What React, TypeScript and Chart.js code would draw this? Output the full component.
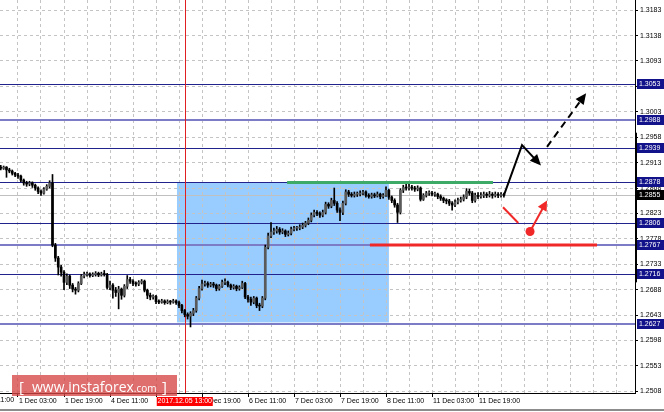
import React, { useEffect, useRef } from 'react';
import { Chart, registerables } from 'chart.js';

Chart.register(...registerables);

// ---- candle data (hourly bars, index 0 = 30 Nov 11:00) ----
const FIRST_INDEX = 10;
const FIRST_OPEN = 1.2905;
const closes = [
  1.2903, 1.2905, 1.2900, 1.2898, 1.2894, 1.2891, 1.2889, 1.2882, 1.2877, 1.2875,
  1.2877, 1.2873, 1.2868, 1.2862, 1.2859, 1.2866, 1.2871, 1.2877, 1.2767, 1.2744,
  1.2728, 1.2719, 1.2701, 1.2712, 1.2696, 1.2689, 1.2687, 1.2699, 1.2712, 1.2715,
  1.2716, 1.2713, 1.2715, 1.2717, 1.2714, 1.2716, 1.2715, 1.2692, 1.2696, 1.2687,
  1.2683, 1.2689, 1.2678, 1.2694, 1.2706, 1.2703, 1.2699, 1.2698, 1.2701, 1.2703,
  1.2687, 1.2678, 1.2675, 1.2676, 1.2667, 1.2666, 1.2668, 1.2665, 1.2667, 1.2666,
  1.2668, 1.2665, 1.2660, 1.2651, 1.2644, 1.2641, 1.2646, 1.2651, 1.2673, 1.2690,
  1.2698, 1.2699, 1.2696, 1.2698, 1.2696, 1.2690, 1.2694, 1.2701, 1.2701, 1.2696,
  1.2692, 1.2694, 1.2690, 1.2692, 1.2699, 1.2675, 1.2671, 1.2666, 1.2673, 1.2660,
  1.2659, 1.2673, 1.2763, 1.2783, 1.2790, 1.2792, 1.2795, 1.2790, 1.2792, 1.2786,
  1.2788, 1.2795, 1.2797, 1.2797, 1.2799, 1.2802, 1.2806, 1.2811, 1.2820, 1.2825,
  1.2823, 1.2820, 1.2825, 1.2839, 1.2836, 1.2846, 1.2841, 1.2829, 1.2825, 1.2841,
  1.2861, 1.2857, 1.2855, 1.2857, 1.2857, 1.2859, 1.2861, 1.2855, 1.2853, 1.2856,
  1.2854, 1.2857, 1.2853, 1.2855, 1.2864, 1.2852, 1.2846, 1.2838, 1.2825, 1.2864,
  1.2869, 1.2868, 1.2869, 1.2868, 1.2866, 1.2868, 1.2848, 1.2855, 1.2859, 1.2859,
  1.2857, 1.2857, 1.2853, 1.2850, 1.2846, 1.2845, 1.2841, 1.2838, 1.2843, 1.2846,
  1.2848, 1.2852, 1.2862, 1.2859, 1.2846, 1.2855, 1.2853, 1.2855, 1.2857, 1.2855,
  1.2857, 1.2855, 1.2857, 1.2855, 1.2856, 1.2855,
];
const highs = [
  1.2908, 1.2907, 1.2906, 1.2903, 1.2900, 1.2896, 1.2894, 1.2891, 1.2884, 1.2880,
  1.2880, 1.2879, 1.2875, 1.2870, 1.2865, 1.2869, 1.2874, 1.2881, 1.2892, 1.2770,
  1.2747, 1.2731, 1.2722, 1.2716, 1.2714, 1.2699, 1.2692, 1.2702, 1.2715, 1.2719,
  1.2719, 1.2718, 1.2718, 1.2720, 1.2719, 1.2719, 1.2722, 1.2717, 1.2703, 1.2699,
  1.2692, 1.2694, 1.2691, 1.2697, 1.2713, 1.2710, 1.2706, 1.2702, 1.2704, 1.2706,
  1.2705, 1.2689, 1.2682, 1.2679, 1.2678, 1.2670, 1.2671, 1.2670, 1.2670, 1.2669,
  1.2671, 1.2670, 1.2668, 1.2662, 1.2653, 1.2647, 1.2649, 1.2655, 1.2676, 1.2694,
  1.2705, 1.2703, 1.2702, 1.2701, 1.2701, 1.2698, 1.2697, 1.2705, 1.2707, 1.2703,
  1.2698, 1.2697, 1.2696, 1.2695, 1.2703, 1.2701, 1.2678, 1.2675, 1.2676, 1.2675,
  1.2664, 1.2676, 1.2767, 1.2788, 1.2807, 1.2797, 1.2800, 1.2798, 1.2796, 1.2794,
  1.2792, 1.2799, 1.2800, 1.2800, 1.2803, 1.2806, 1.2809, 1.2815, 1.2824, 1.2829,
  1.2828, 1.2826, 1.2829, 1.2843, 1.2842, 1.2850, 1.2868, 1.2844, 1.2833, 1.2845,
  1.2865, 1.2864, 1.2860, 1.2861, 1.2861, 1.2863, 1.2864, 1.2863, 1.2858, 1.2859,
  1.2859, 1.2861, 1.2859, 1.2858, 1.2870, 1.2866, 1.2854, 1.2849, 1.2841, 1.2867,
  1.2873, 1.2876, 1.2878, 1.2873, 1.2871, 1.2872, 1.2870, 1.2858, 1.2862, 1.2863,
  1.2862, 1.2861, 1.2859, 1.2856, 1.2852, 1.2849, 1.2848, 1.2844, 1.2847, 1.2850,
  1.2852, 1.2856, 1.2867, 1.2866, 1.2862, 1.2859, 1.2860, 1.2860, 1.2861, 1.2860,
  1.2862, 1.2860, 1.2861, 1.2860, 1.2860, 1.2859,
];
const lows = [
  1.2900, 1.2901, 1.2887, 1.2895, 1.2891, 1.2888, 1.2885, 1.2879, 1.2873, 1.2871,
  1.2872, 1.2869, 1.2864, 1.2858, 1.2855, 1.2857, 1.2864, 1.2868, 1.2764, 1.2738,
  1.2714, 1.2712, 1.2688, 1.2697, 1.2690, 1.2684, 1.2680, 1.2684, 1.2697, 1.2709,
  1.2712, 1.2710, 1.2711, 1.2712, 1.2711, 1.2712, 1.2712, 1.2689, 1.2688, 1.2673,
  1.2676, 1.2654, 1.2671, 1.2675, 1.2690, 1.2699, 1.2695, 1.2694, 1.2695, 1.2698,
  1.2684, 1.2672, 1.2670, 1.2671, 1.2663, 1.2663, 1.2664, 1.2662, 1.2663, 1.2662,
  1.2664, 1.2662, 1.2656, 1.2647, 1.2640, 1.2636, 1.2622, 1.2642, 1.2648, 1.2670,
  1.2687, 1.2694, 1.2692, 1.2693, 1.2692, 1.2686, 1.2687, 1.2692, 1.2697, 1.2693,
  1.2688, 1.2689, 1.2686, 1.2687, 1.2690, 1.2672, 1.2666, 1.2660, 1.2663, 1.2656,
  1.2651, 1.2656, 1.2670, 1.2760, 1.2780, 1.2786, 1.2788, 1.2786, 1.2787, 1.2782,
  1.2783, 1.2785, 1.2792, 1.2793, 1.2794, 1.2796, 1.2799, 1.2803, 1.2808, 1.2817,
  1.2819, 1.2816, 1.2817, 1.2822, 1.2832, 1.2833, 1.2837, 1.2825, 1.2810, 1.2821,
  1.2838, 1.2853, 1.2852, 1.2852, 1.2853, 1.2854, 1.2856, 1.2852, 1.2850, 1.2850,
  1.2851, 1.2852, 1.2849, 1.2850, 1.2853, 1.2848, 1.2842, 1.2834, 1.2807, 1.2822,
  1.2860, 1.2864, 1.2864, 1.2864, 1.2862, 1.2863, 1.2845, 1.2846, 1.2852, 1.2855,
  1.2854, 1.2853, 1.2849, 1.2846, 1.2842, 1.2840, 1.2837, 1.2829, 1.2835, 1.2840,
  1.2843, 1.2845, 1.2849, 1.2855, 1.2842, 1.2843, 1.2849, 1.2850, 1.2851, 1.2851,
  1.2852, 1.2850, 1.2852, 1.2851, 1.2852, 1.2852,
];

// ---- axes ----
const xTickIndex = [0, 16, 32, 48, 64, 80, 96, 112, 128, 144, 160, 176];
const xTickText = [
  '30 Nov 11:00', '1 Dec 03:00', '1 Dec 19:00', '4 Dec 11:00', '5 Dec 03:00', '5 Dec 19:00',
  '6 Dec 11:00', '7 Dec 03:00', '7 Dec 19:00', '8 Dec 11:00', '11 Dec 03:00', '11 Dec 19:00',
];
const yTickValues = [
  1.2508, 1.2553, 1.2598, 1.2643, 1.2688, 1.2733, 1.2778, 1.2823,
  1.2868, 1.2913, 1.2958, 1.3003, 1.3048, 1.3093, 1.3138, 1.3183,
];
const X_MIN = 9.74;
const X_MAX = 230.6;
const Y_MIN = 1.2505;
const Y_MAX = 1.3201;

// ---- annotations (data coordinates: bar index, price) ----
const levelPrices = [1.3053, 1.2988, 1.2939, 1.2878, 1.2806, 1.2767, 1.2716, 1.2627];
const softLevelPrices = [1.2988, 1.2767, 1.2627];
const zoneIndex = [71.3, 145];
const zonePrice = [1.2878, 1.2630];
const markerIndex = 74;
const markerLabel = '2017.12.05 13:00';
const greenIndex = [109.6, 181.2];
const greenPrice = 1.2878;
const redIndex = [138.4, 217.4];
const redPrice = 1.2767;
const blackPathIndex = [185, 191.3, 197.9];
const blackPathPrice = [1.2855, 1.2944, 1.2908];
const dashedIndex = [200, 213.6];
const dashedPrice = [1.2941, 1.3036];
const redStrokeIndex = [184.7, 190];
const redStrokePrice = [1.2834, 1.2806];
const redArrowIndex = [194.1, 200];
const redArrowPrice = [1.2791, 1.2846];
const rangeBarPrice = [1.2966, 1.2701];

const opens = closes.map((_, k) => (k === 0 ? FIRST_OPEN : closes[k - 1]));

function arrowHead(ctx: CanvasRenderingContext2D, x0: number, y0: number, x1: number, y1: number, len: number, half: number) {
  const a = Math.atan2(y1 - y0, x1 - x0);
  const bx = x1 - len * Math.cos(a);
  const by = y1 - len * Math.sin(a);
  ctx.beginPath();
  ctx.moveTo(x1, y1);
  ctx.lineTo(bx + half * Math.sin(a), by - half * Math.cos(a));
  ctx.lineTo(bx - half * Math.sin(a), by + half * Math.cos(a));
  ctx.closePath();
  ctx.fill();
}

const FONT = '"Liberation Sans", Arial, sans-serif';

const overlay = {
  id: 'overlay',
  beforeDraw(chart: any) {
    const { ctx } = chart;
    const { x, y } = chart.scales;
    ctx.save();
    ctx.fillStyle = '#ffffff';
    ctx.fillRect(0, 0, chart.width, chart.height);
    const x1 = x.getPixelForValue(zoneIndex[0]);
    const x2 = x.getPixelForValue(zoneIndex[1]);
    const y1 = y.getPixelForValue(zonePrice[0]);
    const y2 = y.getPixelForValue(zonePrice[1]);
    ctx.fillStyle = '#99ccff';
    ctx.fillRect(x1, y1, x2 - x1, y2 - y1);
    ctx.restore();
  },
  beforeDatasetsDraw(chart: any) {
    const { ctx, chartArea: a } = chart;
    const { x, y } = chart.scales;
    ctx.save();
    const last = closes[closes.length - 1];
    const py = Math.round(y.getPixelForValue(last)) + 0.5;
    ctx.strokeStyle = '#c0c0c0';
    ctx.lineWidth = 1;
    ctx.beginPath();
    ctx.moveTo(a.left, py);
    ctx.lineTo(a.right, py);
    ctx.stroke();
    levelPrices.forEach((p) => {
      const soft = softLevelPrices.includes(p);
      const yy = Math.round(y.getPixelForValue(p)) + (soft ? 0 : 0.5);
      ctx.strokeStyle = soft ? '#7b7bc6' : '#22228c';
      ctx.lineWidth = soft ? 2 : 1;
      ctx.beginPath();
      ctx.moveTo(a.left, yy);
      ctx.lineTo(a.right, yy);
      ctx.stroke();
    });
    const mx = Math.round(x.getPixelForValue(markerIndex)) + 0.5;
    ctx.strokeStyle = '#e02020';
    ctx.lineWidth = 1;
    ctx.beginPath();
    ctx.moveTo(mx, a.top);
    ctx.lineTo(mx, a.bottom);
    ctx.stroke();
    ctx.restore();
  },
  afterDatasetsDraw(chart: any) {
    const { ctx } = chart;
    const { x, y } = chart.scales;
    ctx.save();
    ctx.lineCap = 'butt';
    ctx.strokeStyle = '#3daa68';
    ctx.lineWidth = 3;
    const gy = y.getPixelForValue(greenPrice);
    ctx.beginPath();
    ctx.moveTo(x.getPixelForValue(greenIndex[0]), gy);
    ctx.lineTo(x.getPixelForValue(greenIndex[1]), gy);
    ctx.stroke();
    ctx.strokeStyle = '#f02828';
    ctx.lineWidth = 3;
    const ry = y.getPixelForValue(redPrice);
    ctx.beginPath();
    ctx.moveTo(x.getPixelForValue(redIndex[0]), ry);
    ctx.lineTo(x.getPixelForValue(redIndex[1]), ry);
    ctx.stroke();

    const bp = blackPathIndex.map((v, k) => [x.getPixelForValue(v), y.getPixelForValue(blackPathPrice[k])]);
    ctx.strokeStyle = '#000';
    ctx.fillStyle = '#000';
    ctx.lineWidth = 2;
    ctx.lineJoin = 'miter';
    ctx.beginPath();
    ctx.moveTo(bp[0][0], bp[0][1]);
    ctx.lineTo(bp[1][0], bp[1][1]);
    {
      const [ax, ay] = bp[1];
      const [bx, by] = bp[2];
      const d = Math.hypot(bx - ax, by - ay);
      ctx.lineTo(bx - ((bx - ax) / d) * 8, by - ((by - ay) / d) * 8);
    }
    ctx.stroke();
    arrowHead(ctx, bp[1][0], bp[1][1], bp[2][0], bp[2][1], 11, 5);

    const d0 = [x.getPixelForValue(dashedIndex[0]), y.getPixelForValue(dashedPrice[0])];
    const d1 = [x.getPixelForValue(dashedIndex[1]), y.getPixelForValue(dashedPrice[1])];
    ctx.setLineDash([7, 5]);
    ctx.beginPath();
    ctx.moveTo(d0[0], d0[1]);
    {
      const d = Math.hypot(d1[0] - d0[0], d1[1] - d0[1]);
      ctx.lineTo(d1[0] - ((d1[0] - d0[0]) / d) * 8, d1[1] - ((d1[1] - d0[1]) / d) * 8);
    }
    ctx.stroke();
    ctx.setLineDash([]);
    arrowHead(ctx, d0[0], d0[1], d1[0], d1[1], 11, 5);

    ctx.strokeStyle = '#f02828';
    ctx.fillStyle = '#f02828';
    ctx.lineWidth = 2;
    ctx.beginPath();
    ctx.moveTo(x.getPixelForValue(redStrokeIndex[0]), y.getPixelForValue(redStrokePrice[0]));
    ctx.lineTo(x.getPixelForValue(redStrokeIndex[1]), y.getPixelForValue(redStrokePrice[1]));
    ctx.stroke();
    const r0 = [x.getPixelForValue(redArrowIndex[0]), y.getPixelForValue(redArrowPrice[0])];
    const r1 = [x.getPixelForValue(redArrowIndex[1]), y.getPixelForValue(redArrowPrice[1])];
    ctx.beginPath();
    ctx.arc(r0[0], r0[1], 4.5, 0, Math.PI * 2);
    ctx.fill();
    ctx.beginPath();
    ctx.moveTo(r0[0], r0[1]);
    {
      const d = Math.hypot(r1[0] - r0[0], r1[1] - r0[1]);
      ctx.lineTo(r1[0] - ((r1[0] - r0[0]) / d) * 8, r1[1] - ((r1[1] - r0[1]) / d) * 8);
    }
    ctx.stroke();
    arrowHead(ctx, r0[0], r0[1], r1[0], r1[1], 10, 5);
    ctx.restore();
  },
  afterDraw(chart: any) {
    const { ctx, chartArea: a } = chart;
    const { x, y } = chart.scales;
    ctx.save();
    ctx.fillStyle = '#000';
    const t = y.getPixelForValue(rangeBarPrice[0]);
    const b = y.getPixelForValue(rangeBarPrice[1]);
    ctx.fillRect(a.right, t, 2, b - t);

    ctx.font = `7px ${FONT}`;
    ctx.textBaseline = 'middle';
    ctx.textAlign = 'left';
    levelPrices.forEach((p) => {
      const yy = Math.round(y.getPixelForValue(p));
      ctx.fillStyle = '#12128a';
      ctx.fillRect(a.right + 2, yy - 5, 27, 10);
      ctx.fillStyle = '#ffffff';
      ctx.fillText(p.toFixed(4), a.right + 4, yy + 0.5);
    });
    const last = closes[closes.length - 1];
    const ly = Math.round(y.getPixelForValue(last));
    ctx.fillStyle = '#000';
    ctx.fillRect(a.right + 2, ly - 5, 27, 10);
    ctx.fillStyle = '#fff';
    ctx.fillText(last.toFixed(4), a.right + 4, ly + 0.5);

    ctx.fillStyle = '#000';
    ctx.textBaseline = 'top';
    ctx.fillText(xTickText[0], x.getPixelForValue(xTickIndex[0]) + 1, a.bottom + 4);

    ctx.fillStyle = 'rgba(214, 70, 70, 0.78)';
    ctx.fillRect(12, 375, 165, 21);
    ctx.fillStyle = '#ffffff';
    ctx.textBaseline = 'alphabetic';
    ctx.font = '15px "Open Sans", sans-serif';
    ctx.fillText('[', 19, 392);
    ctx.font = '14px "Open Sans", sans-serif';
    ctx.fillText('www.instaforex', 32, 392);
    const w = ctx.measureText('www.instaforex').width;
    ctx.font = '10px "Open Sans", sans-serif';
    ctx.fillText('.com', 32 + w, 392);
    ctx.font = '15px "Open Sans", sans-serif';
    ctx.fillText(']', 162, 392);

    const mx = x.getPixelForValue(markerIndex);
    ctx.fillStyle = '#ff0000';
    ctx.fillRect(mx - 28, a.bottom + 4, 56, 9);
    ctx.fillStyle = '#ffffff';
    ctx.font = `7px ${FONT}`;
    ctx.textBaseline = 'top';
    ctx.textAlign = 'center';
    ctx.fillText(markerLabel, mx, a.bottom + 5);

    ctx.fillStyle = '#8c8c8c';
    ctx.fillRect(0, 409, chart.width, 2);
    ctx.restore();
  },
};

export default function App() {
  const ref = useRef<HTMLCanvasElement | null>(null);

  useEffect(() => {
    const canvas = ref.current;
    if (!canvas) return;
    const idx = closes.map((_, k) => FIRST_INDEX + k);
    const wicks = idx.map((i, k) => ({ x: i, y: [lows[k], highs[k]] }));
    const bodies = idx.map((i, k) => ({ x: i, y: [opens[k], closes[k]] }));
    const bodyColors = closes.map((c, k) => (c >= opens[k] ? '#5a5a5a' : '#000000'));

    const chart = new Chart(canvas, {
      type: 'bar',
      data: {
        datasets: [
          { data: wicks as any, backgroundColor: '#000', barThickness: 1, grouped: false, order: 2 } as any,
          { data: bodies as any, backgroundColor: bodyColors, barThickness: 2, grouped: false, order: 1, minBarLength: 1 } as any,
        ],
      },
      options: {
        animation: false,
        responsive: false,
        events: [],
        layout: { padding: 0 },
        plugins: { legend: { display: false }, tooltip: { enabled: false } },
        scales: {
          x: {
            type: 'linear',
            min: X_MIN,
            max: X_MAX,
            offset: false,
            grid: {
              offset: false,
              color: '#c4c4c4',
              tickLength: 4,
              tickColor: (c: any) => (c.tick && xTickIndex.includes(c.tick.value) ? '#000' : 'rgba(0,0,0,0)'),
            },
            border: { display: true, color: '#000', width: 1, dash: [3, 3] },
            ticks: {
              autoSkip: false,
              maxRotation: 0,
              minRotation: 0,
              align: 'start',
              padding: 0,
              labelOffset: 1,
              color: '#000',
              font: { family: FONT, size: 7 },
              callback: (v: any) => {
                const k = xTickIndex.indexOf(Number(v));
                return k >= 0 ? xTickText[k] : '';
              },
            },
            afterBuildTicks: (s: any) => {
              const t = [];
              for (let v = 16; v <= 224; v += 8) t.push({ value: v });
              s.ticks = t;
            },
            afterFit: (s: any) => {
              s.height = 19;
              s.paddingLeft = 0;
              s.paddingRight = 0;
            },
          } as any,
          y: {
            type: 'linear',
            position: 'right',
            min: Y_MIN,
            max: Y_MAX,
            beginAtZero: false,
            grid: { color: '#c4c4c4', tickLength: 3, tickColor: '#000' },
            border: { display: true, color: '#000', width: 1, dash: [3, 3] },
            ticks: {
              padding: 2,
              color: '#000',
              font: { family: FONT, size: 7 },
              callback: (v: any) => Number(v).toFixed(4),
            },
            afterBuildTicks: (s: any) => {
              s.ticks = yTickValues.map((v) => ({ value: v }));
            },
            afterFit: (s: any) => {
              s.width = 29;
              s.paddingTop = 0;
              s.paddingBottom = 0;
            },
          } as any,
        },
      },
      plugins: [overlay],
    } as any);

    return () => chart.destroy();
  }, []);

  return (
    <div style={{ position: 'absolute', left: 0, top: 0, width: 664, height: 412 }}>
      <canvas ref={ref} width={664} height={412} style={{ display: 'block' }} />
    </div>
  );
}
